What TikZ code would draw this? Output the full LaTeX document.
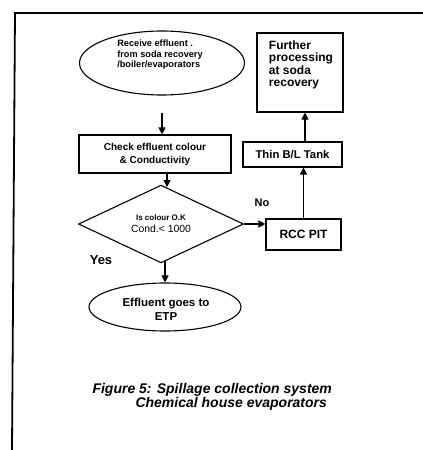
\documentclass[tikz,border=0pt]{standalone}
\usepackage{fontspec}
\setmainfont{Liberation Sans}
\usetikzlibrary{shapes.geometric,arrows.meta,calc}
\begin{document}
\begin{tikzpicture}[x=1pt,y=-1pt,
  line width=1.1pt,
  arr/.style={-{Triangle[length=7pt,width=7pt]}},
  boxnode/.style={draw, rectangle, inner sep=0pt},
  txt/.style={inner sep=0pt, align=center},
]
\useasboundingbox (0,0) rectangle (423,450);
% frame
\draw[line width=1.8pt] (423,13) -- (15,13) -- (12,450);

% top ellipse
\node[draw, ellipse, minimum width=165pt, minimum height=64pt, inner sep=0pt] (ell1) at (162,63) {};
\node[txt, align=left, font=\bfseries\fontsize{9.2}{10.5}\selectfont] (t1) at (160,55) {Receive effluent .\\from soda recovery\\/boiler/evaporators};

% check box
\node[boxnode, minimum width=152pt, minimum height=38pt, align=center, font=\bfseries\fontsize{10}{13}\selectfont] (box1) at (155,154) {Check effluent colour\\\& Conductivity};

% diamond
\node[draw, diamond, minimum width=165pt, minimum height=73pt, inner sep=0pt, align=center] (dia) at (161,224)
  {{\bfseries\fontsize{8}{12}\selectfont Is colour O.K}\\{\fontsize{10.4}{13}\selectfont Cond.< 1000}};

% bottom ellipse
\node[draw, ellipse, minimum width=152pt, minimum height=48pt, inner sep=0pt] (ell2) at (165,307) {};
\node[txt, font=\bfseries\fontsize{11.5}{14}\selectfont] (t2) at (166,309) {Effluent goes to\\ETP};

% right column
\node[boxnode, minimum width=75pt, minimum height=31pt, font=\bfseries\fontsize{12}{14}\selectfont] (rcc) at (303.5,234.5) {RCC PIT};
\node[boxnode, minimum width=99pt, minimum height=25pt, font=\bfseries\fontsize{11.3}{14}\selectfont] (thin) at (292.5,154.5) {Thin B/L Tank};
\node[boxnode, minimum width=86pt, minimum height=79pt] (further) at (300,72.5) {};
\node[txt, align=left, font=\bfseries\fontsize{12}{12.5}\selectfont] (t3) at (301,65) {Further\\processing\\at soda\\recovery};

% labels
\node[font=\bfseries\fontsize{13}{15}\selectfont, inner sep=0pt] (yes) at (101,260) {Yes};
\node[font=\bfseries\fontsize{11}{13}\selectfont, inner sep=0pt] (no) at (262,203) {No};

% connectors
\draw[arr] ([yshift=-17pt]ell1.south) -- (ell1.south |- box1.north);
\draw[arr] ([xshift=6pt]dia.north |- box1.south) -- ([xshift=6pt,yshift=-2.5pt]dia.north);
\draw[arr] (dia.east) -- (dia.east -| rcc.west);
\draw[arr] (rcc.north) -- (rcc.north |- thin.south);
\draw[arr] ([xshift=12.5pt]thin.north) -- ([xshift=12.5pt]thin.north |- further.south);
\draw[arr] ([yshift=2pt]dia.south -| ell2.north) -- (ell2.north);

% caption
\node[anchor=west, inner sep=0pt, font=\bfseries\itshape\fontsize{14}{16}\selectfont] (cap1) at (92,390) {Figure 5: Spillage collection system};
\node[anchor=west, inner sep=0pt, font=\bfseries\itshape\fontsize{14}{16}\selectfont] (cap2) at (135,404) {Chemical house evaporators};
\end{tikzpicture}
\end{document}
